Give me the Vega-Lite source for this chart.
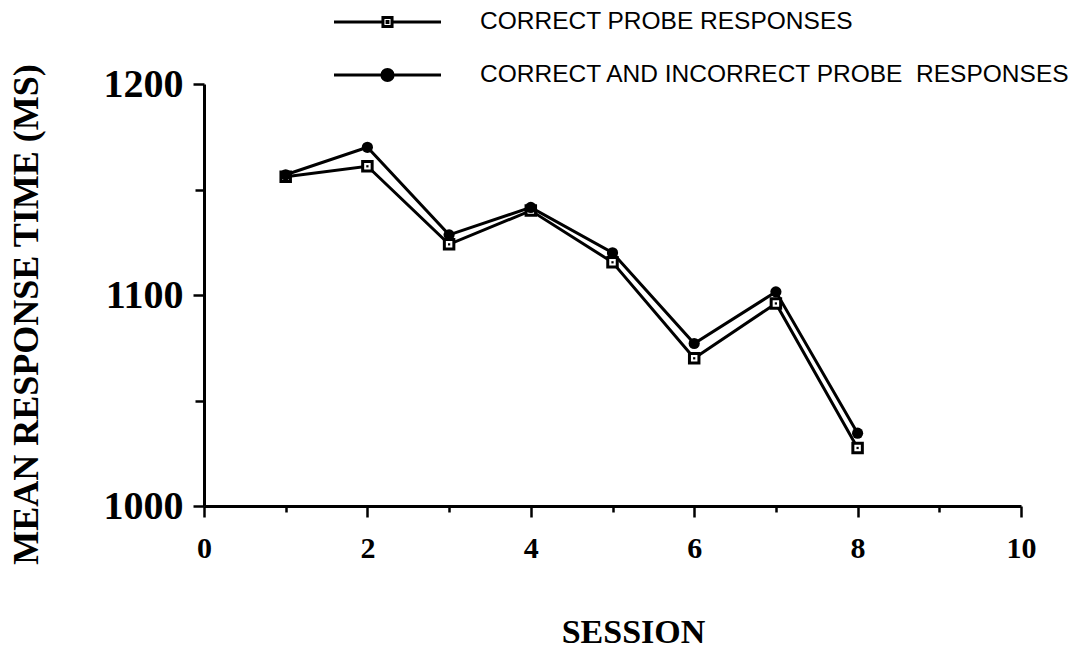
{
  "$schema": "https://vega.github.io/schema/vega-lite/v6.json",
  "autosize": {"type": "none"},
  "padding": {"left": 204, "top": 84, "right": 71, "bottom": 144},
  "width": 817,
  "height": 422,
  "background": "white",
  "data": {
    "values": [
      {"session": 1, "rt": 1156, "series": "CORRECT PROBE RESPONSES"},
      {"session": 2, "rt": 1161, "series": "CORRECT PROBE RESPONSES"},
      {"session": 3, "rt": 1124, "series": "CORRECT PROBE RESPONSES"},
      {"session": 4, "rt": 1140, "series": "CORRECT PROBE RESPONSES"},
      {"session": 5, "rt": 1115.5, "series": "CORRECT PROBE RESPONSES"},
      {"session": 6, "rt": 1070, "series": "CORRECT PROBE RESPONSES"},
      {"session": 7, "rt": 1096, "series": "CORRECT PROBE RESPONSES"},
      {"session": 8, "rt": 1027.5, "series": "CORRECT PROBE RESPONSES"},
      {"session": 1, "rt": 1157, "series": "CORRECT AND INCORRECT PROBE \u00a0RESPONSES"},
      {"session": 2, "rt": 1170, "series": "CORRECT AND INCORRECT PROBE \u00a0RESPONSES"},
      {"session": 3, "rt": 1128.5, "series": "CORRECT AND INCORRECT PROBE \u00a0RESPONSES"},
      {"session": 4, "rt": 1141.5, "series": "CORRECT AND INCORRECT PROBE \u00a0RESPONSES"},
      {"session": 5, "rt": 1120, "series": "CORRECT AND INCORRECT PROBE \u00a0RESPONSES"},
      {"session": 6, "rt": 1077, "series": "CORRECT AND INCORRECT PROBE \u00a0RESPONSES"},
      {"session": 7, "rt": 1101.5, "series": "CORRECT AND INCORRECT PROBE \u00a0RESPONSES"},
      {"session": 8, "rt": 1034.5, "series": "CORRECT AND INCORRECT PROBE \u00a0RESPONSES"}
    ]
  },
  "encoding": {
    "x": {
      "field": "session",
      "type": "quantitative",
      "scale": {"domain": [0, 10], "nice": false, "zero": false},
      "axis": {
        "values": [0, 1, 2, 3, 4, 5, 6, 7, 8, 9, 10],
        "format": "d",
        "labelExpr": "datum.value % 2 === 0 ? datum.label : ''",
        "tickSize": {"condition": {"test": "datum.value % 2 === 1", "value": 6}, "value": 11},
        "labelFont": "Liberation Serif",
        "labelFontWeight": "bold",
        "labelFontSize": 30,
        "labelColor": "black",
        "labelPadding": 16,
        "labelFlush": false,
        "labelOverlap": false,
        "domainColor": "black",
        "domainWidth": 3,
        "tickColor": "black",
        "tickWidth": 2.5,
        "grid": false,
        "title": "SESSION",
        "titleFont": "Liberation Serif",
        "titleFontWeight": "bold",
        "titleFontSize": 34,
        "titleColor": "black",
        "titleX": 429,
        "titleY": 136,
        "titleAlign": "center",
        "titleBaseline": "alphabetic",
        "titleAnchor": null
      }
    },
    "y": {
      "field": "rt",
      "type": "quantitative",
      "scale": {"domain": [1000, 1200], "nice": false, "zero": false},
      "axis": {
        "values": [1000, 1050, 1100, 1150, 1200],
        "format": "d",
        "labelExpr": "datum.value % 100 === 0 ? datum.label : ''",
        "tickSize": {"condition": {"test": "datum.value % 100 !== 0", "value": 9}, "value": 11},
        "labelFont": "Liberation Serif",
        "labelFontWeight": "bold",
        "labelFontSize": 40,
        "labelColor": "black",
        "labelPadding": 10,
        "labelFlush": false,
        "labelOverlap": false,
        "domainColor": "black",
        "domainWidth": 3,
        "tickColor": "black",
        "tickWidth": 2.5,
        "grid": false,
        "title": "MEAN RESPONSE TIME (MS)",
        "titleFont": "Liberation Serif",
        "titleFontWeight": "bold",
        "titleFontSize": 36,
        "titleColor": "black",
        "titleAngle": 270,
        "titleX": -167,
        "titleY": 230,
        "titleAlign": "center",
        "titleBaseline": "alphabetic"
      }
    }
  },
  "layer": [
    {
      "mark": {"type": "line", "strokeWidth": 3},
      "encoding": {
        "color": {
          "field": "series",
          "type": "nominal",
          "scale": {
            "domain": ["CORRECT PROBE RESPONSES", "CORRECT AND INCORRECT PROBE \u00a0RESPONSES"],
            "range": ["black", "black"]
          },
          "legend": {
            "orient": "none",
            "legendX": 128.5,
            "legendY": -77,
            "title": null,
            "direction": "vertical",
            "padding": 0,
            "symbolSize": 11449,
            "symbolStrokeWidth": 3,
            "clipHeight": 30,
            "rowPadding": 23,
            "labelOffset": 37.5,
            "labelFont": "Liberation Sans",
            "labelFontSize": 24.5,
            "labelColor": "black",
            "labelLimit": 1000,
            "encode": {
              "symbols": {
                "update": {
                  "shape": {"signal": "datum.index === 0 ? 'M-1,0H-0.085M0.085,0H1M-0.085,-0.085H0.085V0.085H-0.085ZM-0.008,-0.008H0.008V0.008H-0.008Z' : 'M-1,0H1M0.105,0A0.105,0.105,0,1,1,-0.105,0A0.105,0.105,0,1,1,0.105,0Z'"},
                  "fill": {"signal": "datum.index === 0 ? 'white' : 'black'"},
                  "stroke": {"value": "black"},
                  "strokeWidth": {"value": 3},
                  "opacity": {"value": 1}
                }
              }
            }
          }
        }
      }
    },
    {
      "transform": [{"filter": "datum.series === 'CORRECT PROBE RESPONSES'"}],
      "mark": {"type": "point", "shape": "square", "filled": true, "fill": "white", "stroke": "black", "strokeWidth": 3, "size": 90, "opacity": 1}
    },
    {
      "transform": [{"filter": "datum.series === 'CORRECT PROBE RESPONSES'"}],
      "mark": {"type": "point", "shape": "square", "filled": true, "fill": "black", "size": 5, "opacity": 1}
    },
    {
      "transform": [{"filter": "datum.series !== 'CORRECT PROBE RESPONSES'"}],
      "mark": {"type": "circle", "color": "black", "size": 125, "opacity": 1}
    }
  ],
  "config": {
    "view": {"stroke": null}
  }
}
